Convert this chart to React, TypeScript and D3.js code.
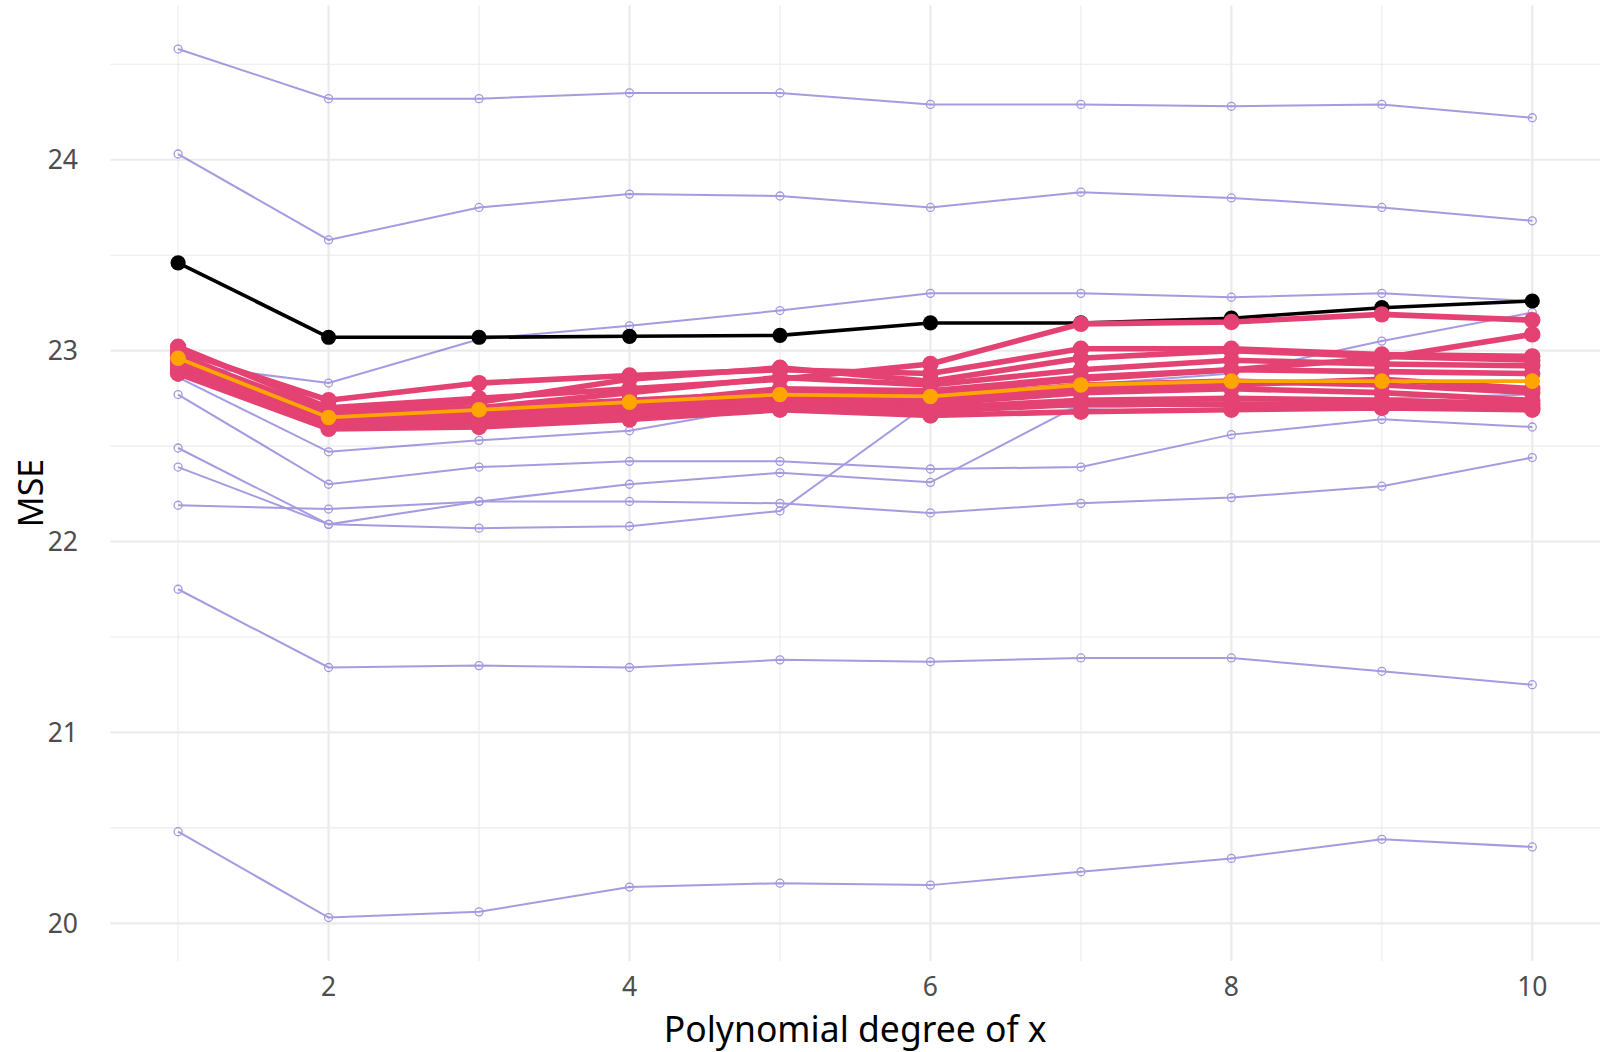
import React, { useEffect, useRef } from "react";
import * as d3 from "d3";

const degrees = [1, 2, 3, 4, 5, 6, 7, 8, 9, 10];
const xTicks = [2, 4, 6, 8, 10];
const yTicks = [20, 21, 22, 23, 24];

// single-sample curves (thin lavender)
const sampleA = [24.58, 24.32, 24.32, 24.35, 24.35, 24.29, 24.29, 24.28, 24.29, 24.22];
const sampleB = [24.03, 23.58, 23.75, 23.82, 23.81, 23.75, 23.83, 23.8, 23.75, 23.68];
const sampleC = [22.93, 22.83, 23.06, 23.13, 23.21, 23.3, 23.3, 23.28, 23.3, 23.26];
const sampleD = [22.86, 22.47, 22.53, 22.58, 22.72, 22.78, 22.82, 22.88, 23.05, 23.2];
const sampleE = [22.77, 22.3, 22.39, 22.42, 22.42, 22.38, 22.39, 22.56, 22.64, 22.6];
const sampleF = [22.49, 22.09, 22.21, 22.3, 22.36, 22.31, 22.72, 22.74, 22.75, 22.77];
const sampleG = [22.39, 22.09, 22.07, 22.08, 22.16, 22.73, 22.7, 22.72, 22.7, 22.72];
const sampleH = [22.19, 22.17, 22.21, 22.21, 22.2, 22.15, 22.2, 22.23, 22.29, 22.44];
const sampleI = [21.75, 21.34, 21.35, 21.34, 21.38, 21.37, 21.39, 21.39, 21.32, 21.25];
const sampleJ = [20.48, 20.03, 20.06, 20.19, 20.21, 20.2, 20.27, 20.34, 20.44, 20.4];

// resampled curves (pink)
const bootA = [23.02, 22.7, 22.75, 22.8, 22.85, 22.93, 23.14, 23.15, 23.19, 23.16];
const bootB = [22.98, 22.66, 22.7, 22.74, 22.78, 22.78, 22.85, 22.9, 22.96, 23.085];
const bootC = [23.0, 22.74, 22.83, 22.87, 22.9, 22.88, 23.01, 23.01, 22.98, 22.97];
const bootD = [22.97, 22.68, 22.73, 22.85, 22.91, 22.84, 22.96, 23.0, 22.97, 22.95];
const bootE = [22.95, 22.66, 22.7, 22.78, 22.86, 22.82, 22.9, 22.95, 22.93, 22.92];
const bootF = [22.93, 22.64, 22.67, 22.72, 22.8, 22.79, 22.86, 22.9, 22.89, 22.88];
const bootG = [22.92, 22.63, 22.66, 22.7, 22.75, 22.75, 22.82, 22.84, 22.82, 22.78];
const bootH = [22.9, 22.62, 22.64, 22.68, 22.74, 22.72, 22.78, 22.8, 22.78, 22.74];
const bootI = [22.89, 22.6, 22.62, 22.66, 22.72, 22.7, 22.74, 22.75, 22.74, 22.72];
const bootJ = [22.88, 22.59, 22.6, 22.64, 22.69, 22.66, 22.68, 22.69, 22.7, 22.69];
const bootK = [22.91, 22.61, 22.63, 22.66, 22.71, 22.68, 22.72, 22.72, 22.72, 22.7];
const bootL = [22.94, 22.65, 22.68, 22.71, 22.77, 22.73, 22.8, 22.82, 22.85, 22.8];

const fullData = [23.46, 23.07, 23.07, 23.075, 23.08, 23.145, 23.145, 23.17, 23.225, 23.26];
const bootMean = [22.96, 22.65, 22.69, 22.73, 22.77, 22.76, 22.82, 22.84, 22.84, 22.84];

const samples = [sampleA, sampleB, sampleC, sampleD, sampleE, sampleF, sampleG, sampleH, sampleI, sampleJ];
const boots = [bootA, bootB, bootC, bootD, bootE, bootF, bootG, bootH, bootI, bootJ, bootK, bootL];

const W = 1603;
const H = 1052;
const FONT = "'Noto Sans', 'Open Sans', sans-serif";

function App() {
  const ref = useRef<SVGSVGElement>(null);

  useEffect(() => {
    drawChart();
  }, []);

  const drawChart = () => {
    const svg = d3.select(ref.current);
    svg.selectAll("*").remove();

    const panel = { left: 110.4, right: 1600, top: 5.6, bottom: 961 };

    const all = [...samples, ...boots, fullData, bootMean].flat();
    const [lo, hi] = d3.extent(all) as [number, number];
    const pad = (hi - lo) * 0.05;
    const xPad = (10 - 1) * 0.05;

    const x = d3
      .scaleLinear()
      .domain([1 - xPad, 10 + xPad])
      .range([panel.left, panel.right]);
    const y = d3
      .scaleLinear()
      .domain([lo - pad, hi + pad])
      .range([panel.bottom, panel.top]);

    const grid = svg.append("g");
    // minor grid
    grid
      .selectAll("line.ymin")
      .data([20.5, 21.5, 22.5, 23.5, 24.5])
      .join("line")
      .attr("x1", panel.left)
      .attr("x2", panel.right)
      .attr("y1", d => y(d))
      .attr("y2", d => y(d))
      .attr("stroke", "#ebebeb")
      .attr("stroke-width", 1.1);
    grid
      .selectAll("line.xmin")
      .data([1, 3, 5, 7, 9])
      .join("line")
      .attr("class", "xmin")
      .attr("x1", d => x(d))
      .attr("x2", d => x(d))
      .attr("y1", panel.top)
      .attr("y2", panel.bottom)
      .attr("stroke", "#ebebeb")
      .attr("stroke-width", 1.1);
    // major grid
    grid
      .selectAll("line.ymaj")
      .data(yTicks)
      .join("line")
      .attr("class", "ymaj")
      .attr("x1", panel.left)
      .attr("x2", panel.right)
      .attr("y1", d => y(d))
      .attr("y2", d => y(d))
      .attr("stroke", "#ebebeb")
      .attr("stroke-width", 2.2);
    grid
      .selectAll("line.xmaj")
      .data(xTicks)
      .join("line")
      .attr("class", "xmaj")
      .attr("x1", d => x(d))
      .attr("x2", d => x(d))
      .attr("y1", panel.top)
      .attr("y2", panel.bottom)
      .attr("stroke", "#ebebeb")
      .attr("stroke-width", 2.2);

    const line = d3
      .line<number>()
      .x((d, i) => x(degrees[i]))
      .y(d => y(d));

    // lavender sample curves
    const lav = svg.append("g").attr("opacity", 0.6);
    samples.forEach(s => {
      lav
        .append("path")
        .attr("d", line(s))
        .attr("fill", "none")
        .attr("stroke", "#6a5acd")
        .attr("stroke-width", 2);
      lav
        .append("g")
        .selectAll("circle")
        .data(s)
        .join("circle")
        .attr("cx", (d, i) => x(degrees[i]))
        .attr("cy", d => y(d))
        .attr("r", 4)
        .attr("fill", "none")
        .attr("stroke", "#6a5acd")
        .attr("stroke-width", 1.3);
    });

    const solid = (vals: number[], color: string, lw: number, r: number) => {
      const g = svg.append("g");
      g.append("path")
        .attr("d", line(vals))
        .attr("fill", "none")
        .attr("stroke", color)
        .attr("stroke-width", lw)
        .attr("stroke-linejoin", "round");
      g.selectAll("circle")
        .data(vals)
        .join("circle")
        .attr("cx", (d, i) => x(degrees[i]))
        .attr("cy", d => y(d))
        .attr("r", r)
        .attr("fill", color);
    };

    solid(fullData, "#000000", 3.6, 7.6);
    boots.forEach(b => solid(b, "#e34273", 5.6, 8.2));
    solid(bootMean, "#ffa500", 3.8, 7.8);

    // axis labels
    svg
      .append("g")
      .selectAll("text")
      .data(yTicks)
      .join("text")
      .attr("x", 78)
      .attr("y", d => y(d))
      .attr("dy", "0.36em")
      .attr("text-anchor", "end")
      .attr("fill", "#4d4d4d")
      .style("font-family", FONT)
      .style("font-size", "26.5px")
      .text(d => d);

    svg
      .append("g")
      .selectAll("text")
      .data(xTicks)
      .join("text")
      .attr("x", d => x(d))
      .attr("y", 996)
      .attr("text-anchor", "middle")
      .attr("fill", "#4d4d4d")
      .style("font-family", FONT)
      .style("font-size", "26.5px")
      .text(d => d);

    svg
      .append("text")
      .attr("x", (panel.left + panel.right) / 2)
      .attr("y", 1041.5)
      .attr("text-anchor", "middle")
      .attr("fill", "#000")
      .style("font-family", FONT)
      .style("font-size", "35.5px")
      .text("Polynomial degree of x");

    svg
      .append("text")
      .attr("transform", "translate(43,493) rotate(-90)")
      .attr("text-anchor", "middle")
      .attr("fill", "#000")
      .style("font-family", FONT)
      .style("font-size", "34px")
      .text("MSE");
  };

  return (
    <div style={{ position: "absolute", left: 0, top: 0 }}>
      <svg ref={ref} width={W} height={H} style={{ display: "block", background: "#fff" }} />
    </div>
  );
}

export default App;
